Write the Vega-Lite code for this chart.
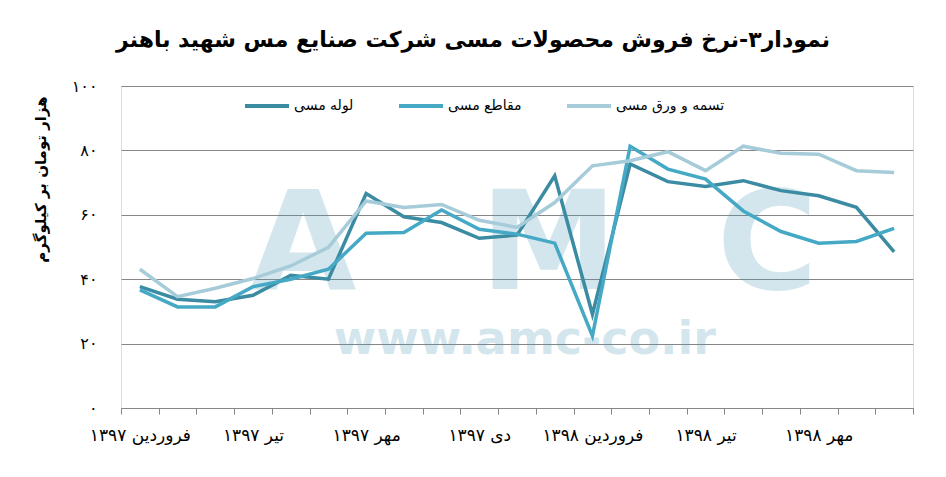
{
  "$schema": "https://vega.github.io/schema/vega-lite/v6.json",
  "width": 792,
  "height": 322,
  "autosize": {"type": "none"},
  "padding": {"left": 121, "top": 86, "right": 33, "bottom": 69},
  "background": "white",
  "title": {
    "text": "نمودار۳-نرخ فروش محصولات مسی شرکت صنایع مس شهید باهنر",
    "font": "DejaVu Sans",
    "fontSize": 22,
    "fontWeight": "bold",
    "color": "black",
    "anchor": "middle",
    "offset": 26,
    "dx": -44
  },
  "datasets": {
    "watermark": [{"w": "A"}, {"w": "M"}, {"w": "C"}, {"w": "www.amc-co.ir"}],
    "prices": [
      {"month": "فروردین ۱۳۹۷", "product": "لوله مسی", "price": 37.7},
      {"month": "فروردین ۱۳۹۷", "product": "مقاطع مسی", "price": 36.7},
      {"month": "فروردین ۱۳۹۷", "product": "تسمه و ورق مسی", "price": 43.1},
      {"month": "اردیبهشت ۱۳۹۷", "product": "لوله مسی", "price": 33.8},
      {"month": "اردیبهشت ۱۳۹۷", "product": "مقاطع مسی", "price": 31.4},
      {"month": "اردیبهشت ۱۳۹۷", "product": "تسمه و ورق مسی", "price": 34.6},
      {"month": "خرداد ۱۳۹۷", "product": "لوله مسی", "price": 33.0},
      {"month": "خرداد ۱۳۹۷", "product": "مقاطع مسی", "price": 31.4},
      {"month": "خرداد ۱۳۹۷", "product": "تسمه و ورق مسی", "price": 37.2},
      {"month": "تیر ۱۳۹۷", "product": "لوله مسی", "price": 35.0},
      {"month": "تیر ۱۳۹۷", "product": "مقاطع مسی", "price": 37.7},
      {"month": "تیر ۱۳۹۷", "product": "تسمه و ورق مسی", "price": 40.2},
      {"month": "مرداد ۱۳۹۷", "product": "لوله مسی", "price": 41.2},
      {"month": "مرداد ۱۳۹۷", "product": "مقاطع مسی", "price": 40.0},
      {"month": "مرداد ۱۳۹۷", "product": "تسمه و ورق مسی", "price": 44.1},
      {"month": "شهریور ۱۳۹۷", "product": "لوله مسی", "price": 40.0},
      {"month": "شهریور ۱۳۹۷", "product": "مقاطع مسی", "price": 43.1},
      {"month": "شهریور ۱۳۹۷", "product": "تسمه و ورق مسی", "price": 49.9},
      {"month": "مهر ۱۳۹۷", "product": "لوله مسی", "price": 66.6},
      {"month": "مهر ۱۳۹۷", "product": "مقاطع مسی", "price": 54.3},
      {"month": "مهر ۱۳۹۷", "product": "تسمه و ورق مسی", "price": 64.3},
      {"month": "آبان ۱۳۹۷", "product": "لوله مسی", "price": 59.4},
      {"month": "آبان ۱۳۹۷", "product": "مقاطع مسی", "price": 54.5},
      {"month": "آبان ۱۳۹۷", "product": "تسمه و ورق مسی", "price": 62.3},
      {"month": "آذر ۱۳۹۷", "product": "لوله مسی", "price": 57.6},
      {"month": "آذر ۱۳۹۷", "product": "مقاطع مسی", "price": 61.5},
      {"month": "آذر ۱۳۹۷", "product": "تسمه و ورق مسی", "price": 63.2},
      {"month": "دی ۱۳۹۷", "product": "لوله مسی", "price": 52.7},
      {"month": "دی ۱۳۹۷", "product": "مقاطع مسی", "price": 55.5},
      {"month": "دی ۱۳۹۷", "product": "تسمه و ورق مسی", "price": 58.3},
      {"month": "بهمن ۱۳۹۷", "product": "لوله مسی", "price": 53.7},
      {"month": "بهمن ۱۳۹۷", "product": "مقاطع مسی", "price": 54.0},
      {"month": "بهمن ۱۳۹۷", "product": "تسمه و ورق مسی", "price": 56.1},
      {"month": "اسفند ۱۳۹۷", "product": "لوله مسی", "price": 72.1},
      {"month": "اسفند ۱۳۹۷", "product": "مقاطع مسی", "price": 51.2},
      {"month": "اسفند ۱۳۹۷", "product": "تسمه و ورق مسی", "price": 63.8},
      {"month": "فروردین ۱۳۹۸", "product": "لوله مسی", "price": 29.1},
      {"month": "فروردین ۱۳۹۸", "product": "مقاطع مسی", "price": 22.4},
      {"month": "فروردین ۱۳۹۸", "product": "تسمه و ورق مسی", "price": 75.2},
      {"month": "اردیبهشت ۱۳۹۸", "product": "لوله مسی", "price": 75.8},
      {"month": "اردیبهشت ۱۳۹۸", "product": "مقاطع مسی", "price": 81.3},
      {"month": "اردیبهشت ۱۳۹۸", "product": "تسمه و ورق مسی", "price": 76.8},
      {"month": "خرداد ۱۳۹۸", "product": "لوله مسی", "price": 70.3},
      {"month": "خرداد ۱۳۹۸", "product": "مقاطع مسی", "price": 74.2},
      {"month": "خرداد ۱۳۹۸", "product": "تسمه و ورق مسی", "price": 79.6},
      {"month": "تیر ۱۳۹۸", "product": "لوله مسی", "price": 68.8},
      {"month": "تیر ۱۳۹۸", "product": "مقاطع مسی", "price": 71.1},
      {"month": "تیر ۱۳۹۸", "product": "تسمه و ورق مسی", "price": 73.7},
      {"month": "مرداد ۱۳۹۸", "product": "لوله مسی", "price": 70.6},
      {"month": "مرداد ۱۳۹۸", "product": "مقاطع مسی", "price": 61.2},
      {"month": "مرداد ۱۳۹۸", "product": "تسمه و ورق مسی", "price": 81.3},
      {"month": "شهریور ۱۳۹۸", "product": "لوله مسی", "price": 67.5},
      {"month": "شهریور ۱۳۹۸", "product": "مقاطع مسی", "price": 54.8},
      {"month": "شهریور ۱۳۹۸", "product": "تسمه و ورق مسی", "price": 79.1},
      {"month": "مهر ۱۳۹۸", "product": "لوله مسی", "price": 65.9},
      {"month": "مهر ۱۳۹۸", "product": "مقاطع مسی", "price": 51.2},
      {"month": "مهر ۱۳۹۸", "product": "تسمه و ورق مسی", "price": 78.8},
      {"month": "آبان ۱۳۹۸", "product": "لوله مسی", "price": 62.3},
      {"month": "آبان ۱۳۹۸", "product": "مقاطع مسی", "price": 51.7},
      {"month": "آبان ۱۳۹۸", "product": "تسمه و ورق مسی", "price": 73.7},
      {"month": "آذر ۱۳۹۸", "product": "لوله مسی", "price": 48.5},
      {"month": "آذر ۱۳۹۸", "product": "مقاطع مسی", "price": 55.8},
      {"month": "آذر ۱۳۹۸", "product": "تسمه و ورق مسی", "price": 73.1}
    ]
  },
  "resolve": {"scale": {"x": "independent"}, "axis": {"x": "independent"}},
  "layer": [
    {
      "data": {"name": "watermark"},
      "transform": [{"filter": "datum.w == 'A'"}],
      "mark": {"type": "text", "font": "DejaVu Sans", "fontWeight": "bold", "fontSize": 138, "fill": "#4a98b4", "opacity": 0.23, "baseline": "alphabetic", "align": "center"},
      "encoding": {
        "x": {"datum": 0.23, "type": "quantitative", "scale": {"domain": [0, 1]}, "axis": null},
        "y": {"datum": 37.0, "type": "quantitative"},
        "text": {"field": "w"}
      }
    },
    {
      "data": {"name": "watermark"},
      "transform": [{"filter": "datum.w == 'M'"}],
      "mark": {"type": "text", "font": "DejaVu Sans", "fontWeight": "bold", "fontSize": 138, "fill": "#4a98b4", "opacity": 0.23, "baseline": "alphabetic", "align": "center"},
      "encoding": {
        "x": {"datum": 0.54, "type": "quantitative", "scale": {"domain": [0, 1]}, "axis": null},
        "y": {"datum": 37.0, "type": "quantitative"},
        "text": {"field": "w"}
      }
    },
    {
      "data": {"name": "watermark"},
      "transform": [{"filter": "datum.w == 'C'"}],
      "mark": {"type": "text", "font": "DejaVu Sans", "fontWeight": "bold", "fontSize": 138, "fill": "#4a98b4", "opacity": 0.23, "baseline": "alphabetic", "align": "center"},
      "encoding": {
        "x": {"datum": 0.816, "type": "quantitative", "scale": {"domain": [0, 1]}, "axis": null},
        "y": {"datum": 37.0, "type": "quantitative"},
        "text": {"field": "w"}
      }
    },
    {
      "data": {"name": "watermark"},
      "transform": [{"filter": "datum.w == 'www.amc-co.ir'"}],
      "mark": {"type": "text", "font": "DejaVu Sans", "fontWeight": "bold", "fontSize": 46, "fill": "#4a98b4", "opacity": 0.23, "baseline": "alphabetic", "align": "center"},
      "encoding": {
        "x": {"datum": 0.51, "type": "quantitative", "scale": {"domain": [0, 1]}, "axis": null},
        "y": {"datum": 16.7, "type": "quantitative"},
        "text": {"field": "w"}
      }
    },
    {
      "data": {"name": "prices"},
      "mark": {"type": "line", "strokeWidth": 3.5},
      "encoding": {
        "x": {
          "field": "month",
          "type": "nominal",
          "sort": null,
          "scale": {"type": "band", "paddingInner": 0, "paddingOuter": 0},
          "axis": {
            "title": null,
            "labelAngle": 0,
            "labelFont": "DejaVu Sans",
            "labelFontSize": 17,
            "labelColor": "black",
            "labelPadding": 13,
            "tickBand": "extent",
            "tickSize": 6,
            "tickColor": "#868686",
            "domainColor": "#868686",
            "grid": false,
            "labelExpr": "indexof(['فروردین ۱۳۹۷','تیر ۱۳۹۷','مهر ۱۳۹۷','دی ۱۳۹۷','فروردین ۱۳۹۸','تیر ۱۳۹۸','مهر ۱۳۹۸'], datum.label) >= 0 ? datum.label : ''"
          }
        },
        "y": {
          "field": "price",
          "type": "quantitative",
          "scale": {"domain": [0, 100]},
          "axis": {
            "values": [0, 20, 40, 60, 80, 100],
            "title": "هزار تومان بر کیلوگرم",
            "titleFont": "DejaVu Sans",
            "titleFontSize": 15,
            "titleFontWeight": "bold",
            "titleColor": "black",
            "titleAngle": -90,
            "titleAlign": "center",
            "titleBaseline": "middle",
            "titleX": -81,
            "titleY": 93,
            "domain": false,
            "ticks": false,
            "grid": true,
            "gridColor": "#868686",
            "gridWidth": 1,
            "labelPadding": 24,
            "labelFont": "DejaVu Sans",
            "labelFontSize": 16,
            "labelColor": "black",
            "labelExpr": "datum.value == 0 ? '۰' : datum.value == 20 ? '۲۰' : datum.value == 40 ? '۴۰' : datum.value == 60 ? '۶۰' : datum.value == 80 ? '۸۰' : '۱۰۰'"
          }
        },
        "color": {
          "field": "product",
          "type": "nominal",
          "scale": {"domain": ["لوله مسی", "مقاطع مسی", "تسمه و ورق مسی"], "range": ["#3b8ca3", "#45a9c6", "#a6cbd9"]},
          "legend": {
            "title": null,
            "orient": "none",
            "legendX": 122,
            "legendY": -4,
            "direction": "horizontal",
            "symbolType": "stroke",
            "symbolStrokeWidth": 4,
            "symbolSize": 1936,
            "labelFont": "DejaVu Sans",
            "labelFontSize": 14,
            "labelColor": "black",
            "labelOffset": 3,
            "columnPadding": 37
          }
        }
      }
    }
  ]
}
